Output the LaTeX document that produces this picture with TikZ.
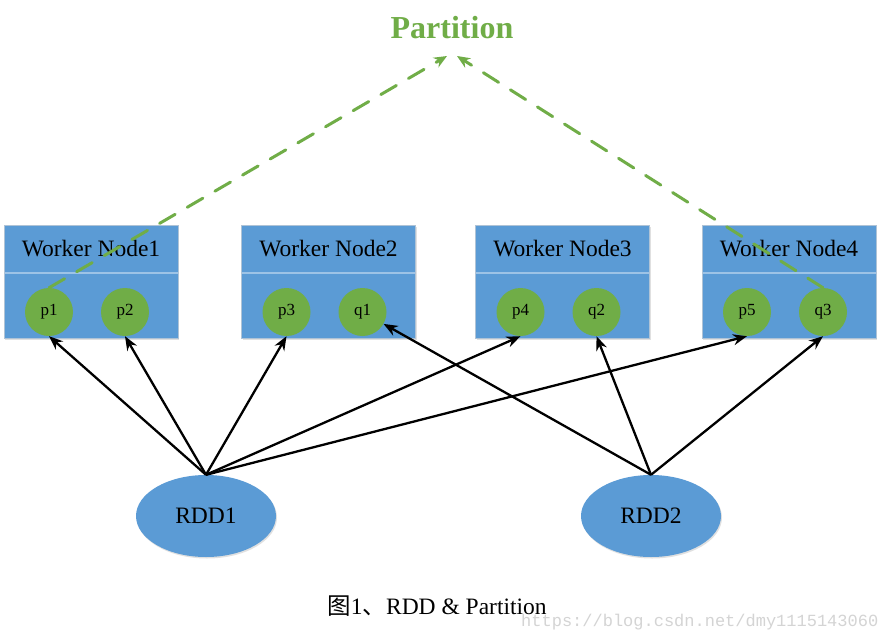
\documentclass[tikz,border=0pt]{standalone}
\usepackage{fontspec}
\setmainfont{Liberation Serif}
\newfontfamily\cjkfont{Noto Sans CJK SC}
\newfontfamily\wmfont{Liberation Mono}
\usetikzlibrary{arrows.meta,shadows,shapes.geometric}
\definecolor{boxblue}{HTML}{5B9BD5}
\definecolor{pgreen}{HTML}{70AD47}
\definecolor{edgegray}{HTML}{AFC3D6}
\definecolor{divline}{HTML}{9DC3E6}
\definecolor{wmgray}{HTML}{D4D4D4}
\begin{document}
\begin{tikzpicture}[x=1pt,y=-1pt,
  worker/.style={rectangle, draw=edgegray, line width=1pt, fill=boxblue,
    minimum width=174pt, minimum height=113pt, inner sep=0pt,
    drop shadow={shadow xshift=1pt, shadow yshift=-1.5pt, opacity=0.2, fill=black!60}},
  head/.style={font=\fontsize{23.5}{28}\selectfont, inner sep=0pt, anchor=base},
  divider/.style={divline, line width=1.5pt},
  part/.style={circle, fill=pgreen, minimum size=48pt, inner sep=0pt,
    font=\fontsize{17}{20}\selectfont},
  rdd/.style={ellipse, fill=boxblue, minimum width=140pt, minimum height=82pt,
    inner sep=0pt, font=\fontsize{23.5}{28}\selectfont,
    drop shadow={shadow xshift=1pt, shadow yshift=-1.5pt, opacity=0.2, fill=black!60}},
  link/.style={-{Stealth[length=14pt,width=11pt]}, line width=2.3pt, black},
  plink/.style={pgreen, dash pattern=on 18pt off 14pt, line cap=round, line width=3pt,
    -{Stealth[length=13pt,width=11pt]}}
]
\useasboundingbox (0,0) rectangle (881,640);
\fill[white] (0,0) rectangle (881,640);

\foreach \i/\x/\a/\b in {1/91/p1/p2, 2/328.5/p3/q1, 3/562.5/p4/q2, 4/789/p5/q3} {
  \node[worker] (w\i) at (\x,281.5) {};
  \node[head] (h\i) at (\x,256.5) {Worker Node\i};
  \draw[divider] (\x-86.5,273) -- (\x+86.5,273);
  \node[part] (\a) at (\x-42,312) {\a};
  \node[part] (\b) at (\x+34,312) {\b};
}

\node[rdd] (rdd1) at (206,516) {RDD1};
\node[rdd] (rdd2) at (651,516) {RDD2};

\node[font=\bfseries\fontsize{32}{38}\selectfont, text=pgreen, inner sep=0pt] (title) at (452,28) {Partition};
\coordinate (t1) at (447,56);
\coordinate (t2) at (457,56);

% RDD1 arrows
\draw[link] (rdd1.north) -- (p1.south);
\draw[link] (rdd1.north) -- (p2.south);
\draw[link] (rdd1.north) -- (p3.south);
\draw[link] (rdd1.north) -- (p4.south);
\draw[link] (rdd1.north) -- (p5.south);
% RDD2 arrows
\draw[link] (rdd2.north) -- (q1);
\draw[link] (rdd2.north) -- (q2.south);
\draw[link] (rdd2.north) -- (q3.south);

% partition arrows
\draw[plink] (p1.north) -- (t1);
\draw[plink] (q3.north) -- (t2);

\node[anchor=base, font=\fontsize{23.5}{28}\selectfont, inner sep=0pt] (cap) at (437,614)
  {{\cjkfont 图}1{\cjkfont 、}RDD \& Partition};
\node[anchor=base west, font=\wmfont\fontsize{17}{20}\selectfont, text=wmgray, inner sep=0pt] (wm)
  at (521,626) {https://blog.csdn.net/dmy1115143060};
\end{tikzpicture}
\end{document}
